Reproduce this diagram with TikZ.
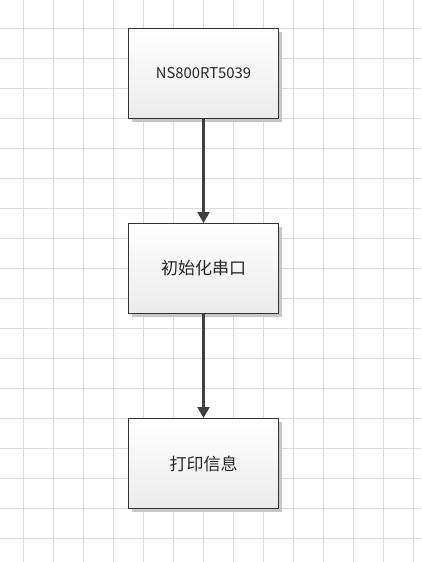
\documentclass[tikz,border=0pt]{standalone}
\usepackage{fontspec}
\setmainfont{Noto Sans CJK SC}
\usetikzlibrary{arrows.meta,shadows}
\definecolor{gridc}{HTML}{DCDCDC}
\definecolor{boxline}{HTML}{333333}
\definecolor{arrc}{HTML}{404040}
\definecolor{botc}{HTML}{EBEBEB}
\tikzset{
  flowbox/.style={draw=boxline, line width=1pt, minimum width=150pt, minimum height=90pt,
    inner sep=0pt, top color=white, bottom color=botc, font=\fontsize{17pt}{19pt}\selectfont,
    text=black!85, drop shadow={shadow xshift=3pt, shadow yshift=-3pt, fill=black!22, opacity=1}},
  flowarrow/.style={draw=arrc, line width=2.2pt, -{Triangle[length=11pt,width=12pt]}},
  gridline/.style={draw=gridc, line width=1pt}
}
\begin{document}
\begin{tikzpicture}[x=1pt,y=-1pt]
\useasboundingbox (0,0) rectangle (421,562);
\fill[white] (0,0) rectangle (421,562);
\foreach \x in {23.5,53.5,...,420} \draw[gridline] (\x,0) -- (\x,562);
\foreach \y in {28.5,58.5,...,562} \draw[gridline] (0,\y) -- (421,\y);
\node[flowbox, font=\fontsize{14.8pt}{17pt}\selectfont] (a) at (203.5,73.5) {NS800RT5039};
\node[flowbox] (b) at (203.5,268.5) {初始化串口};
\node[flowbox] (c) at (203.5,463.5) {打印信息};
\draw[flowarrow] (a) -- (b);
\draw[flowarrow] (b) -- (c);
\end{tikzpicture}
\end{document}
